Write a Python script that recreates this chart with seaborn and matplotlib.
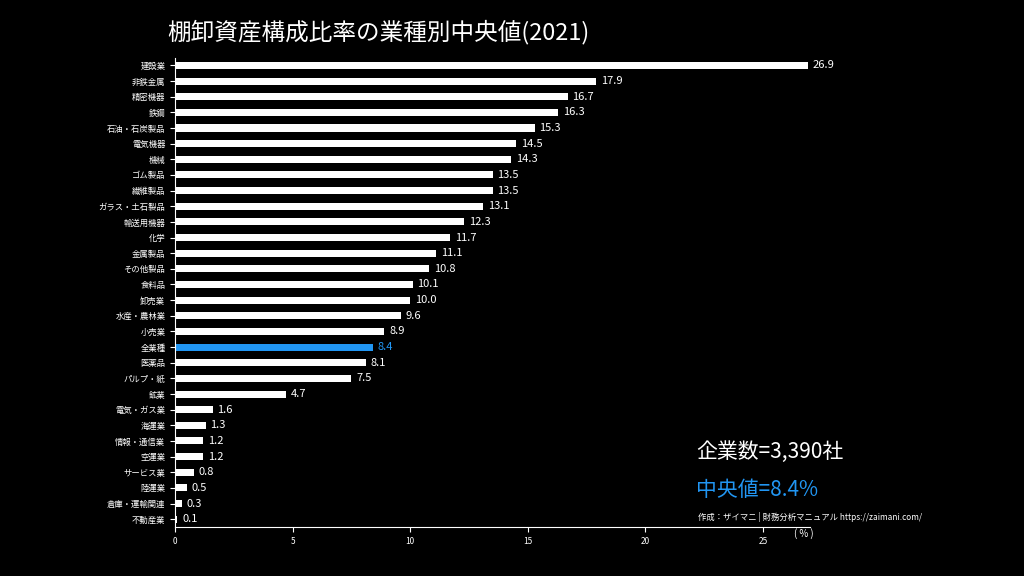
import matplotlib
matplotlib.use("Agg")
import matplotlib.pyplot as plt
import seaborn as sns
import pandas as pd

categories = ["建設業","非鉄金属","精密機器","鉄鋼","石油・石炭製品","電気機器","機械","ゴム製品","繊維製品","ガラス・土石製品",
"輸送用機器","化学","金属製品","その他製品","食料品","卸売業","水産・農林業","小売業","全業種","医薬品","パルプ・紙","鉱業",
"電気・ガス業","海運業","情報・通信業","空運業","サービス業","陸運業","倉庫・運輸関連","不動産業"]
values = [26.9,17.9,16.7,16.3,15.3,14.5,14.3,13.5,13.5,13.1,12.3,11.7,11.1,10.8,10.1,10.0,9.6,8.9,8.4,8.1,7.5,4.7,1.6,1.3,1.2,1.2,0.8,0.5,0.3,0.1]
xticks = [0,5,10,15,20,25]

font = "Noto Sans CJK JP"
plt.rcParams["font.family"] = font
df = pd.DataFrame({"cat": categories, "val": values})
blue = "#2196f3"
colors = [blue if c == "全業種" else "white" for c in categories]

fig = plt.figure(figsize=(10.24, 5.76), dpi=100, facecolor="black")
ax = fig.add_axes([0.171, 0.085, 0.62, 0.815], facecolor="black")
sns.barplot(data=df, y="cat", x="val", hue="cat", palette=colors, legend=False, ax=ax, width=0.45, saturation=1)
ax.set_xlim(0, 27)
ax.set_ylim(len(categories) - 0.5, -0.5)
for i, v in enumerate(values):
    ax.text(v + 0.2, i, f"{v:.1f}", va="center", ha="left", fontsize=8,
            color=blue if categories[i] == "全業種" else "white")
ax.set_xticks(xticks)
ax.set_xlabel("")
ax.set_ylabel("")
ax.tick_params(colors="white", labelsize=6)
ax.tick_params(axis="x", labelsize=6)
for s in ["top", "right"]:
    ax.spines[s].set_visible(False)
for s in ["left", "bottom"]:
    ax.spines[s].set_color("white")
fig.text(0.163, 0.945, "棚卸資産構成比率の業種別中央値(2021)", color="white", fontsize=17, va="center")
fig.text(0.775, 0.073, "( % )", color="white", fontsize=7, va="center")
fig.text(0.68, 0.215, "企業数=3,390社", color="white", fontsize=15, va="center")
fig.text(0.68, 0.15, "中央値=8.4%", color=blue, fontsize=15, va="center")
fig.text(0.682, 0.103, "作成：ザイマニ | 財務分析マニュアル https://zaimani.com/", color="white", fontsize=6, va="center")
fig.savefig("out.png", dpi=100, facecolor="black")
